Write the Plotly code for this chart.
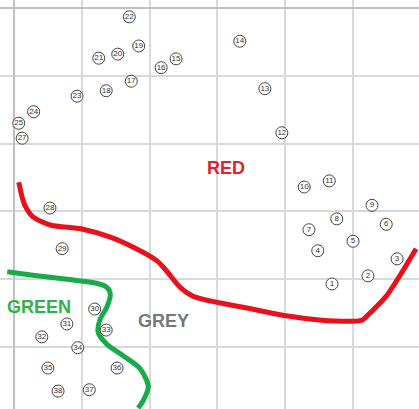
import plotly.graph_objects as go

# Numbered points (grid units, y measured downward)
labels = ["1","2","3","4","5","6","7","8","9","10","11","12","13","14","15","16","17","18","19",
          "20","21","22","23","24","25","27","28","29","30","31","32","33","34","35","36","37","38"]
pt_x = [4.69,5.22,5.65,4.48,5.00,5.49,4.35,4.76,5.28,4.28,4.65,3.95,3.70,3.33,2.39,2.17,1.73,1.36,1.84,
        1.53,1.25,1.70,0.93,0.29,0.07,0.12,0.53,0.71,1.19,0.78,0.41,1.36,0.94,0.50,1.52,1.11,0.65]
pt_y = [4.07,3.95,3.70,3.58,3.44,3.19,3.27,3.11,2.91,2.64,2.55,1.84,1.19,0.49,0.75,0.88,1.08,1.22,0.56,
        0.68,0.74,0.13,1.30,1.53,1.70,1.92,2.95,3.55,4.44,4.66,4.85,4.75,5.01,5.31,5.31,5.63,5.65]

# Red boundary
red_x = [0.07,0.12,0.16,0.28,0.53,1.00,1.42,1.76,2.11,2.26,2.45,2.64,2.89,3.36,4.01,4.50,4.99,5.14,5.24,5.49,5.72,5.93]
red_y = [2.57,2.79,2.91,3.08,3.20,3.26,3.38,3.53,3.73,3.89,4.12,4.25,4.32,4.41,4.54,4.60,4.62,4.60,4.51,4.25,3.90,3.55]

# Green boundary
green_x = [-0.10,0.28,0.78,1.22,1.37,1.42,1.37,1.27,1.24,1.37,1.61,1.86,1.98,1.90,1.83]
green_y = [3.89,3.94,4.00,4.06,4.12,4.22,4.41,4.59,4.78,4.96,5.13,5.32,5.58,5.80,5.90]

# Region labels
region_names = ["RED", "GREEN", "GREY"]
region_x = [3.13, 0.37, 2.20]
region_y = [2.36, 4.41, 4.62]
region_colors = ["#e0202a", "#2db34a", "#777777"]

fig = go.Figure()
fig.add_trace(go.Scatter(x=red_x, y=red_y, mode="lines",
                         line=dict(color="#e8101a", width=5, shape="spline", smoothing=0.7),
                         hoverinfo="skip", showlegend=False))
fig.add_trace(go.Scatter(x=green_x, y=green_y, mode="lines",
                         line=dict(color="#19aa4a", width=5, shape="spline", smoothing=0.8),
                         hoverinfo="skip", showlegend=False))
fig.add_trace(go.Scatter(x=pt_x, y=pt_y, mode="markers+text", text=labels,
                         textposition="middle center",
                         textfont=dict(family="Arial, Liberation Sans, sans-serif", size=8, color="#333333"),
                         marker=dict(symbol="circle", size=12, color="rgba(255,255,255,0.9)",
                                     line=dict(color="#444444", width=1)),
                         showlegend=False))

for name, x, y, c in zip(region_names, region_x, region_y, region_colors):
    fig.add_annotation(x=x, y=y, text="<b>%s</b>" % name, showarrow=False,
                       font=dict(family="Arial, Liberation Sans, sans-serif", size=18, color=c),
                       xanchor="center", yanchor="middle")

fig.update_layout(width=419, height=409, margin=dict(l=0, r=0, t=0, b=0),
                  plot_bgcolor="white", paper_bgcolor="white", showlegend=False)
fig.update_xaxes(range=[-0.2065, 5.973], dtick=1, tick0=0, showgrid=True, gridcolor="#d9d9d9",
                 gridwidth=1.5, zeroline=True, zerolinecolor="#c0c0c0", zerolinewidth=2,
                 showticklabels=False, ticks="", showline=False)
fig.update_yaxes(range=[5.914, -0.118], dtick=1, tick0=0, showgrid=True, gridcolor="#d9d9d9",
                 gridwidth=1.5, zeroline=True, zerolinecolor="#c0c0c0", zerolinewidth=2,
                 showticklabels=False, ticks="", showline=False)

fig.write_html("out.html")
